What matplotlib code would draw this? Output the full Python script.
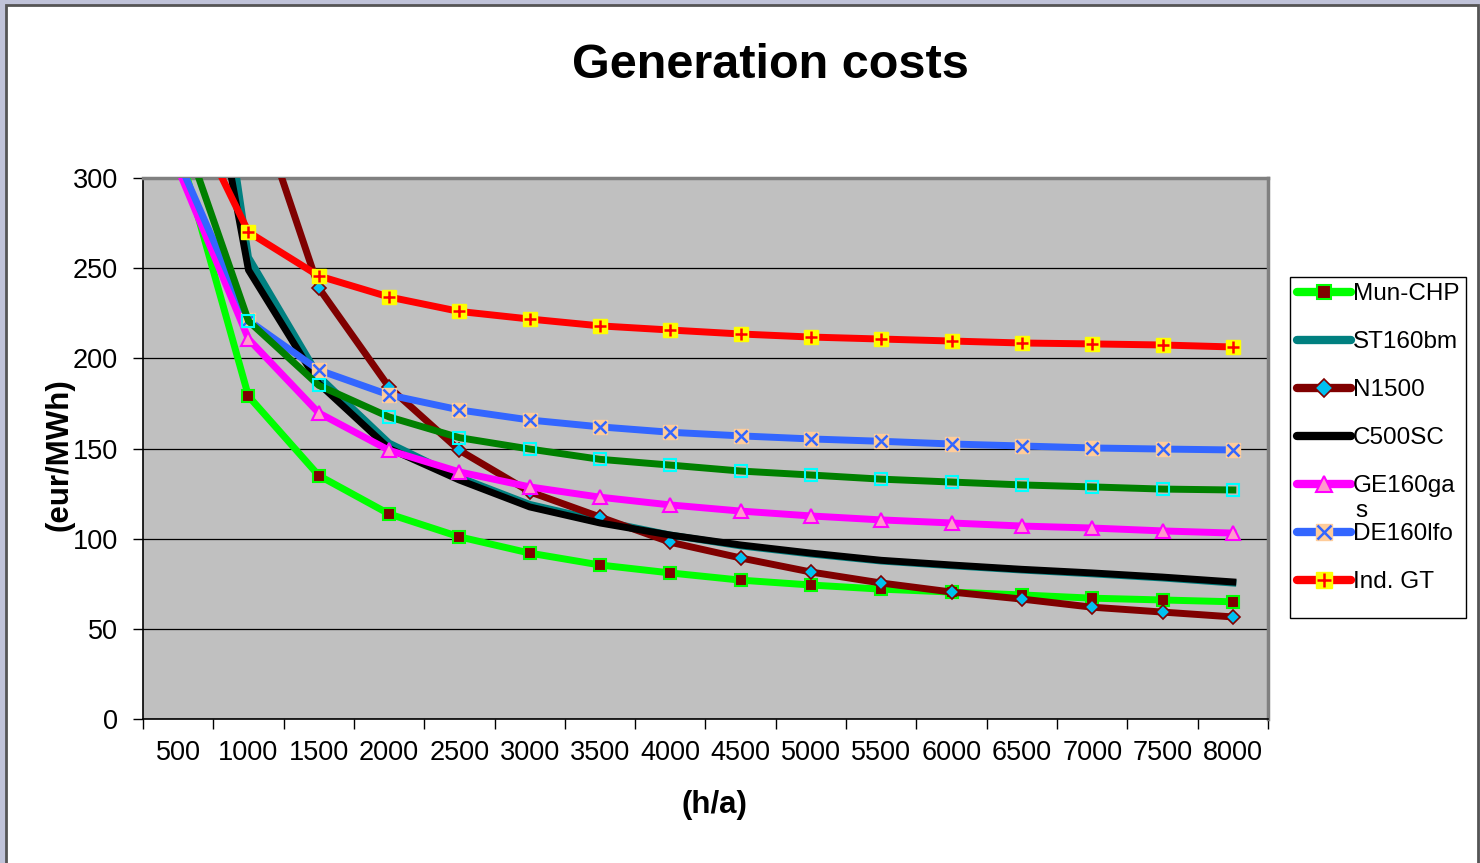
import numpy as np
import matplotlib
matplotlib.use("Agg")
import matplotlib.pyplot as plt
from matplotlib.patches import Rectangle

plt.rcParams['font.family'] = ['Liberation Sans', 'DejaVu Sans']

hours = ['500', '1000', '1500', '2000', '2500', '3000', '3500', '4000',
         '4500', '5000', '5500', '6000', '6500', '7000', '7500', '8000']

mun_chp = [318, 179, 135, 113.7, 101, 92, 85.4, 81, 77, 74.3, 72, 70.4, 68.8, 67, 66, 65]
st160bm = [520, 256, 190, 153, 134, 119, 110, 102, 96, 91.5, 87.6, 85, 82.6, 80.5, 78.2, 75.4]
n1500 = [600, 355, 239, 184, 149, 126, 112, 98, 89.3, 81.5, 75.4, 70.4, 66.5, 62, 59.3, 56.6]
c500sc = [460, 249, 186, 150, 132.5, 117.6, 108.7, 102, 96.5, 92, 88, 85.4, 83, 81, 78.7, 76]
ge160gas = [305, 210.7, 169.7, 149, 137, 128.7, 123, 118.7, 115.3, 112.6, 110.4, 108.7, 107, 105.9, 104.3, 103.1]
de160lfo = [310, 221, 193.5, 179.7, 171.4, 165.8, 162, 159, 157, 155.3, 154, 152.5, 151.4, 150.3, 149.7, 149.2]
ind_gt = [350, 270, 245.7, 234, 226, 221.8, 218, 215.7, 213.5, 211.8, 210.7, 209.6, 208.5, 208, 207.4, 206.3]
extra = [333, 220.7, 185, 167.5, 156, 149.7, 144, 140.8, 137.5, 135.3, 133, 131.4, 129.8, 128.7, 127.5, 127]

W, H = 1480, 863
fig = plt.figure(figsize=(W / 100, H / 100), dpi=100, facecolor='#C0C3D9')
fig.patches.append(Rectangle((6 / W, -0.02), (1478 - 6) / W, 1 - 5 / H + 0.02,
                             transform=fig.transFigure, facecolor='white',
                             edgecolor='#555555', linewidth=2, zorder=-10))

ax = fig.add_axes([143 / W, 1 - 719 / H, (1268 - 143) / W, (719 - 178) / H])
ax.set_facecolor('#C0C0C0')

x = np.arange(len(hours))
lw = 5
ms = 8.5

l1, = ax.plot(x, mun_chp, color='#00FF00', lw=lw, marker='s', ms=ms,
              mfc='#800000', mec='#00FF00', mew=1.5, zorder=3)
l2, = ax.plot(x, st160bm, color='#008080', lw=lw, zorder=3)
l3, = ax.plot(x, n1500, color='#800000', lw=lw, marker='D', ms=7.5,
              mfc='#00C0F0', mec='#800000', mew=1.2, zorder=3)
l4, = ax.plot(x, c500sc, color='black', lw=lw, zorder=3)
l5, = ax.plot(x, ge160gas, color='#FF00FF', lw=lw, marker='^', ms=10,
              mfc='#FF99CC', mec='#FF00FF', mew=1.5, zorder=3)
l6, = ax.plot(x, de160lfo, color='#3366FF', lw=lw, marker='s', ms=ms + 1,
              mfc='#FFCC99', mec='#FFCC99', zorder=3)
l6x, = ax.plot(x, de160lfo, ls='none', marker='x', ms=ms, mec='#3366FF', mew=1.8, zorder=3)
l7, = ax.plot(x, ind_gt, color='#FF0000', lw=lw, marker='s', ms=ms + 1,
              mfc='#FFFF00', mec='#FFFF00', zorder=3)
l7x, = ax.plot(x, ind_gt, ls='none', marker='+', ms=ms, mec='#FF0000', mew=1.8, zorder=3)
ax.plot(x, extra, color='#008000', lw=lw, marker='s', ms=ms,
        mfc='none', mec='#00FFFF', mew=1.5, zorder=3)

ax.set_xlim(-0.5, len(hours) - 0.5)
ax.set_ylim(0, 300)
ax.set_yticks(np.arange(0, 301, 50))
ax.yaxis.grid(True, color='black', lw=0.9)
ax.set_axisbelow(True)

ax.set_xticks(np.arange(-0.5, len(hours), 1.0))
ax.set_xticklabels([])
ax.set_xticks(x, minor=True)
ax.set_xticklabels(hours, minor=True)
ax.tick_params(axis='x', which='major', length=7, width=1, direction='out')
ax.tick_params(axis='x', which='minor', length=0, labelsize=19.5, pad=15)
ax.tick_params(axis='y', length=7, width=1, labelsize=19.5, pad=11)

for s in ['left', 'bottom']:
    ax.spines[s].set_color('black')
    ax.spines[s].set_linewidth(1.2)
for s in ['top', 'right']:
    ax.spines[s].set_color('#808080')
    ax.spines[s].set_linewidth(2.5)

ax.set_xlabel('(h/a)', fontsize=22.5, fontweight='bold')
ax.set_ylabel('(eur/MWh)', fontsize=22.5, fontweight='bold')
ax.xaxis.set_label_coords((714 - 143) / 1125, (719 - 790) / 541)
ax.yaxis.set_label_coords((74 - 143) / 1125, (719 - 455) / 541)
fig.text(770 / W, 1 - 65 / H, 'Generation costs', fontsize=35, fontweight='bold',
         ha='center', va='center')

# legend box drawn separately so it keeps the tall Excel proportions
fig.patches.append(Rectangle((1290 / W, 1 - 618 / H), (1466 - 1290) / W, (618 - 277) / H,
                             transform=fig.transFigure, facecolor='white',
                             edgecolor='black', linewidth=1, zorder=4))
handles = [l1, l2, l3, l4, l5, (l6, l6x), (l7, l7x)]
labels = ['Mun-CHP', 'ST160bm', 'N1500', 'C500SC', 'GE160ga', 'DE160lfo', 'Ind. GT']
leg = fig.legend(handles, labels, loc='upper left',
                 bbox_to_anchor=(1290 / W, 1 - 276 / H), bbox_transform=fig.transFigure,
                 fontsize=17.5, frameon=False, borderaxespad=0,
                 handlelength=2.2, handletextpad=0.1, labelspacing=1.07,
                 borderpad=0.3, markerscale=1.2)
leg.set_zorder(5)
for h in leg.get_lines():
    h.set_linewidth(6)
    h.set_solid_capstyle('round')
fig.text(1355 / W, 1 - 511 / H, 's', fontsize=17.5, ha='left', va='center', zorder=10)

fig.savefig('out.png', dpi=100, facecolor=fig.get_facecolor())
